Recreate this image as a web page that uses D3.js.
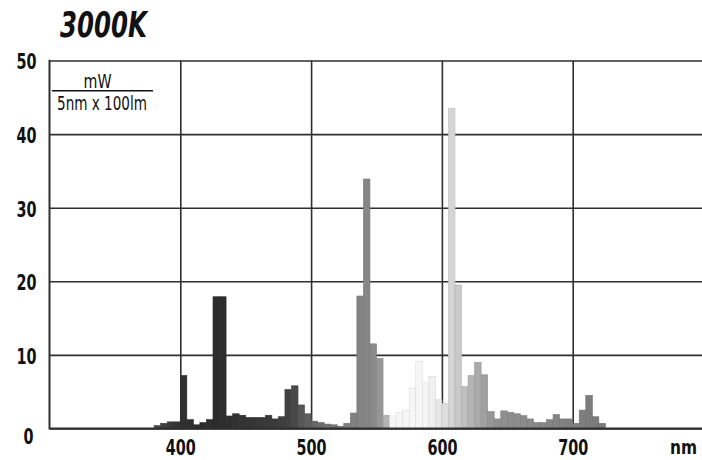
<!DOCTYPE html>
<html>
<head>
<meta charset="utf-8">
<script src="https://cdn.jsdelivr.net/npm/d3@7"></script>
<style>
  html, body { margin: 0; padding: 0; background: #fff; }
  svg { display: block; }
</style>
</head>
<body>
<svg id="chart" width="702" height="460"></svg>
<script>
// Spectral power distribution, 5 nm bands (band start wavelength in nm)
const wavelengths = [
  380, 385, 390, 395, 400, 405, 410, 415, 420, 425, 430, 435, 440, 445, 450, 455,
  460, 465, 470, 475, 480, 485, 490, 495, 500, 505, 510, 515, 520, 525, 530, 535,
  540, 545, 550, 555, 560, 565, 570, 575, 580, 585, 590, 595, 600, 605, 610, 615,
  620, 625, 630, 635, 640, 645, 650, 655, 660, 665, 670, 675, 680, 685, 690, 695,
  700, 705, 710, 715, 720
];
// mW / (5 nm x 100 lm)
const power = [
  0.4, 0.7, 0.9, 0.9, 7.2, 1.2, 0.5, 0.8, 1.2, 17.9, 17.9, 1.7, 2.0, 1.8, 1.5, 1.5,
  1.5, 1.8, 1.3, 1.6, 5.3, 5.8, 3.2, 2.0, 1.0, 0.8, 0.6, 0.5, 0.3, 0.7, 2.1, 18.0,
  33.9, 11.5, 9.5, 1.8, 1.5, 2.2, 2.5, 5.5, 9.1, 6.2, 7.1, 3.9, 3.4, 43.5, 19.5, 5.7,
  7.2, 9.0, 7.3, 2.3, 1.3, 2.4, 2.2, 2.0, 1.75, 1.3, 0.8, 0.8, 1.2, 1.9, 1.3, 1.3,
  0.7, 2.5, 4.5, 1.6, 0.7
];
const bandWidth = 5;

const yTicks = [0, 10, 20, 30, 40, 50];
const xTicks = [400, 500, 600, 700];
const titleText = "3000K";
const unitTop = "mW";
const unitBottom = "5nm x 100lm";
const xUnit = "nm";

// Grey rendering of the spectral colours (wavelength -> grey level)
const shadeAt   = [380, 400, 430, 470, 485, 495, 510, 530, 550, 557, 562, 588, 598, 607, 612, 625, 640, 700, 720];
const shadeGrey = [ 75,  48,  45,  58,  66,  92, 112, 128, 138, 172, 246, 246, 230, 214, 202, 175, 145, 128, 122];
const shade = d3.scaleLinear().domain(shadeAt).range(shadeGrey).clamp(true);
const greyOf = w => { const g = Math.round(shade(w + bandWidth / 2)); return `rgb(${g},${g},${g})`; };

const svg = d3.select("#chart");
const W = 702;
const plotLeft = 49.5, plotRight = 703.5, plotTop = 60.5, plotBottom = 428.5;

const x = d3.scaleLinear().domain([300, 800]).range([plotLeft, plotRight]);
const y = d3.scaleLinear().domain([0, 50]).range([plotBottom, plotTop]);

const gridColor = "#2f2f2f";
const fontStack = "'Liberation Sans Narrow', 'Arial Narrow', 'DejaVu Sans Condensed', sans-serif";
const labelFont = "bold 21px " + fontStack;
// condensed label width per character
const charW = 10;

// horizontal grid + y labels
const gy = svg.append("g")
  .attr("transform", `translate(${plotLeft},0)`)
  .call(d3.axisLeft(y).tickValues(yTicks).tickSize(-(W - plotLeft)).tickPadding(13));
gy.select(".domain").remove();
gy.selectAll(".tick line").attr("stroke", gridColor).attr("stroke-width", 1.6);
gy.selectAll(".tick text")
  .style("font", labelFont)
  .attr("fill", "#111")
  .attr("dy", d => d === 0 ? "0.7em" : "0.4em")
  .attr("x", d => d === 0 ? -16 : -13)
  .attr("textLength", d => String(d).length * charW)
  .attr("lengthAdjust", "spacingAndGlyphs");

// vertical grid + x labels
const gx = svg.append("g")
  .attr("transform", `translate(0,${plotBottom})`)
  .call(d3.axisBottom(x).tickValues(xTicks).tickSize(-(plotBottom - plotTop)).tickPadding(12));
gx.select(".domain").remove();
gx.selectAll(".tick line").attr("stroke", gridColor).attr("stroke-width", 1.6);
gx.selectAll(".tick text")
  .style("font", labelFont)
  .attr("fill", "#111")
  .attr("textLength", d => String(d).length * charW)
  .attr("lengthAdjust", "spacingAndGlyphs");

// spectral bands
const bands = wavelengths.map((w, i) => ({ w, v: power[i] }));
svg.append("g")
  .selectAll("rect")
  .data(bands)
  .join("rect")
  .attr("x", d => x(d.w))
  .attr("width", d => x(d.w + bandWidth) - x(d.w))
  .attr("y", d => y(d.v))
  .attr("height", d => y(0) - y(d.v))
  .attr("fill", d => greyOf(d.w))
  .attr("stroke", d => d3.color(greyOf(d.w)).darker(0.3))
  .attr("stroke-width", 0.6);

// frame: left axis and baseline
svg.append("line")
  .attr("x1", plotLeft).attr("x2", plotLeft).attr("y1", plotTop - 0.8).attr("y2", plotBottom + 0.8)
  .attr("stroke", gridColor).attr("stroke-width", 2);
svg.append("line")
  .attr("x1", plotLeft).attr("x2", W).attr("y1", plotBottom).attr("y2", plotBottom)
  .attr("stroke", gridColor).attr("stroke-width", 1.8);

// axis unit
svg.append("text")
  .attr("x", 670).attr("y", 454)
  .style("font", "bold 19px " + fontStack)
  .attr("fill", "#111")
  .attr("textLength", 27).attr("lengthAdjust", "spacingAndGlyphs")
  .text(xUnit);

// y unit as a fraction
const unitFont = "19px " + fontStack;
svg.append("text")
  .attr("x", 97.5).attr("y", 87.5)
  .attr("text-anchor", "middle")
  .style("font", unitFont)
  .attr("fill", "#111")
  .attr("textLength", 28).attr("lengthAdjust", "spacingAndGlyphs")
  .text(unitTop);
svg.append("line")
  .attr("x1", 52).attr("x2", 153).attr("y1", 90.8).attr("y2", 90.8)
  .attr("stroke", "#111").attr("stroke-width", 1.5);
svg.append("text")
  .attr("x", 57).attr("y", 109.5)
  .style("font", unitFont)
  .attr("fill", "#111")
  .attr("textLength", 90).attr("lengthAdjust", "spacingAndGlyphs")
  .text(unitBottom);

// title
svg.append("text")
  .attr("x", 60).attr("y", 37)
  .style("font", "italic bold 36px " + fontStack)
  .attr("fill", "#111")
  .attr("textLength", 87).attr("lengthAdjust", "spacingAndGlyphs")
  .text(titleText);
</script>
</body>
</html>
